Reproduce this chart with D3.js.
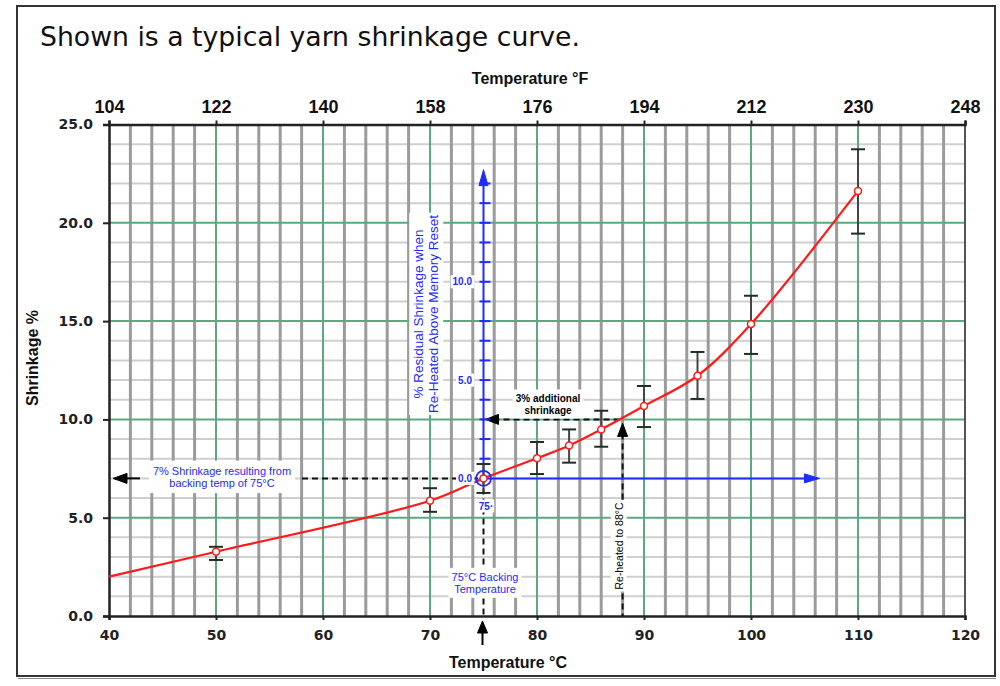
<!DOCTYPE html>
<html>
<head>
<meta charset="utf-8">
<script src="https://cdn.jsdelivr.net/npm/d3@7"></script>
<style>
  html, body { margin: 0; padding: 0; background: #fff; }
  svg { display: block; }
</style>
</head>
<body>
<svg id="chart" width="1000" height="686"></svg>
<script>
// ---------- data ----------
const tempC      = [40, 50, 70, 75, 80, 83, 86, 90, 95, 100, 110];
const shrinkage  = [2.0, 3.27, 5.86, 7.0, 8.02, 8.67, 9.49, 10.68, 12.22, 14.85, 21.62];
const errHigh    = [null, 3.52, 6.5, 7.73, 8.85, 9.49, 10.44, 11.7, 13.43, 16.29, 23.74];
const errLow     = [null, 2.85, 5.3, 6.26, 7.22, 7.8, 8.61, 9.61, 11.04, 13.33, 19.45];
const hasMarker  = [false, true, true, true, true, true, true, true, true, true, true];

const xTicksC    = [40, 50, 60, 70, 80, 90, 100, 110, 120];
const xTicksF    = [104, 122, 140, 158, 176, 194, 212, 230, 248];
const yTicks     = [0, 5, 10, 15, 20, 25];
const residualTicks = [0, 5, 10];

const titleText  = "Shown is a typical yarn shrinkage curve.";
const xTitleC    = "Temperature \u00B0C";
const xTitleF    = "Temperature \u00B0F";
const yTitle     = "Shrinkage %";
const residualTitle = ["% Residual Shrinkage when", "Re-Heated Above Memory Reset"];

const backingTemp = 75;      // °C
const backingShrink = 7;     // %
const reheatTemp = 88;       // °C
const reheatShrink = 10;     // %
const residualMax = 15.5;
const residualXEnd = 106.4;  // °C where horizontal blue axis ends

const noteBacking = ["7% Shrinkage resulting from", "backing temp of 75\u00B0C"];
const noteAdditional = ["3% additional", "shrinkage"];
const noteBackTemp = ["75\u00B0C Backing", "Temperature"];
const noteReheat = "Re-heated to 88\u00B0C";
const noteOrigin = "75\u00B7";

// ---------- setup ----------
const svg = d3.select("#chart");
const x = d3.scaleLinear().domain([40, 120]).range([109, 965]);
const xF = d3.scaleLinear().domain([104, 248]).range([109, 965]);
const y = d3.scaleLinear().domain([0, 25]).range([616, 124.5]);
const yR = d3.scaleLinear().domain([0, 25]).range([y(backingShrink), y(backingShrink + 25)]);

const GREEN = "#5aa97f", GRAY_V = "#9b9b9b", GRAY_H = "#cfcfcf", BLUE = "#1f2bff", RED = "#ff1a1a";

// outer frame
svg.append("rect").attr("x", 17).attr("y", 6).attr("width", 978).attr("height", 670)
  .attr("fill", "#fff").attr("stroke", "#333").attr("stroke-width", 2);
svg.append("line").attr("x1", 18).attr("x2", 996).attr("y1", 678.5).attr("y2", 678.5)
  .attr("stroke", "#888").attr("stroke-width", 1);

// title
svg.append("text").attr("x", 40).attr("y", 46)
  .attr("font-family", "'DejaVu Sans Condensed', 'DejaVu Sans', sans-serif")
  .attr("font-size", 27).attr("fill", "#111")
  .attr("textLength", 540).attr("lengthAdjust", "spacingAndGlyphs")
  .text(titleText);

// ---------- grid ----------
const grid = svg.append("g");
const minorX = d3.range(42, 120, 2).filter(v => v % 10 !== 0);
const minorY = d3.range(1, 25, 1).filter(v => v % 5 !== 0);
grid.selectAll(".hmin").data(minorY).join("line")
  .attr("x1", x(40)).attr("x2", x(120)).attr("y1", d => y(d)).attr("y2", d => y(d))
  .attr("stroke", GRAY_H).attr("stroke-width", 2);
grid.selectAll(".vmin").data(minorX).join("line")
  .attr("x1", d => x(d)).attr("x2", d => x(d)).attr("y1", y(0)).attr("y2", y(25))
  .attr("stroke", GRAY_V).attr("stroke-width", 3);
grid.selectAll(".hmaj").data(yTicks.filter(v => v > 0 && v < 25)).join("line")
  .attr("x1", x(40)).attr("x2", x(120)).attr("y1", d => y(d)).attr("y2", d => y(d))
  .attr("stroke", GREEN).attr("stroke-width", 2);
grid.selectAll(".vmaj").data(xTicksC.filter(v => v > 40 && v < 120)).join("line")
  .attr("x1", d => x(d)).attr("x2", d => x(d)).attr("y1", y(0)).attr("y2", y(25))
  .attr("stroke", GREEN).attr("stroke-width", 2);
// right border of plot
grid.append("line").attr("x1", x(120)).attr("x2", x(120)).attr("y1", y(0)).attr("y2", y(25))
  .attr("stroke", "#555").attr("stroke-width", 2);

// ---------- axes ----------
const tickFont = "'DejaVu Sans', Verdana, sans-serif";
const narrowFont = "'Liberation Sans Narrow', 'Arial Narrow', 'Liberation Sans', sans-serif";

const gLeft = svg.append("g").attr("transform", `translate(${x(40)},0)`)
  .call(d3.axisLeft(y).tickValues(yTicks).tickFormat(d3.format(".1f")).tickSize(6).tickPadding(10));
gLeft.selectAll("text").attr("font-family", tickFont).attr("font-weight", "bold")
  .attr("font-size", 14).attr("fill", "#222");

const gBottom = svg.append("g").attr("transform", `translate(0,${y(0)})`)
  .call(d3.axisBottom(x).tickValues(xTicksC).tickSize(4).tickPadding(10));
gBottom.selectAll("text").attr("font-family", tickFont).attr("font-weight", "bold")
  .attr("font-size", 14).attr("fill", "#222");

const gTop = svg.append("g").attr("transform", `translate(0,${y(25)})`)
  .call(d3.axisTop(xF).tickValues(xTicksF).tickSize(4).tickPadding(8));
gTop.selectAll("text").attr("font-family", narrowFont).attr("font-weight", "bold")
  .attr("font-size", 18).attr("fill", "#111");

[gLeft, gBottom, gTop].forEach(g => {
  g.select(".domain").attr("stroke", "#222").attr("stroke-width", 2.5);
  g.selectAll(".tick line").attr("stroke", "#222").attr("stroke-width", 2);
});

// axis titles
svg.append("text").attr("x", 530).attr("y", 84).attr("text-anchor", "middle")
  .attr("font-family", narrowFont).attr("font-weight", "bold").attr("font-size", 16).attr("fill", "#111")
  .text(xTitleF);
svg.append("text").attr("x", 508).attr("y", 668).attr("text-anchor", "middle")
  .attr("font-family", narrowFont).attr("font-weight", "bold").attr("font-size", 16).attr("fill", "#111")
  .text(xTitleC);
svg.append("text").attr("transform", "translate(38,358) rotate(-90)").attr("text-anchor", "middle")
  .attr("font-family", narrowFont).attr("font-weight", "bold").attr("font-size", 16).attr("fill", "#111")
  .text(yTitle);

// ---------- annotation helpers ----------
const ann = svg.append("g");
function textBlock(g, lines, cx, cy, opts) {
  const grp = g.append("g").attr("transform", `translate(${cx},${cy}) rotate(${opts.rotate || 0})`);
  const bg = grp.append("rect").attr("fill", "#fff");
  const t = grp.append("text").attr("text-anchor", "middle")
    .attr("font-family", opts.font || "'Liberation Sans', Arial, sans-serif")
    .attr("font-size", opts.size || 10).attr("font-weight", opts.weight || "normal")
    .attr("fill", opts.color || "#000");
  const lh = opts.lh || (opts.size || 10) * 1.2;
  lines.forEach((l, i) => {
    t.append("tspan").attr("x", 0).attr("y", (i - (lines.length - 1) / 2) * lh).attr("dy", "0.35em").text(l);
  });
  const b = t.node().getBBox();
  const p = opts.pad || 3;
  bg.attr("x", b.x - p).attr("y", b.y - p).attr("width", b.width + 2 * p).attr("height", b.height + 2 * p);
  return grp;
}
function arrowHead(g, tipX, tipY, dir, len, half, color) {
  let pts;
  if (dir === "left") pts = [[tipX, tipY], [tipX + len, tipY - half], [tipX + len, tipY + half]];
  if (dir === "right") pts = [[tipX, tipY], [tipX - len, tipY - half], [tipX - len, tipY + half]];
  if (dir === "up") pts = [[tipX, tipY], [tipX - half, tipY + len], [tipX + half, tipY + len]];
  g.append("path").attr("d", d3.line()(pts) + "Z").attr("fill", color).attr("stroke", color).attr("stroke-width", 1);
}

// dashed guides
const dash = "6,4";
ann.append("line").attr("x1", 302).attr("x2", x(backingTemp)).attr("y1", y(backingShrink)).attr("y2", y(backingShrink))
  .attr("stroke", "#111").attr("stroke-width", 2).attr("stroke-dasharray", dash);
ann.append("line").attr("x1", x(backingTemp)).attr("x2", x(backingTemp)).attr("y1", y(backingShrink)).attr("y2", y(0))
  .attr("stroke", "#111").attr("stroke-width", 2).attr("stroke-dasharray", dash);
ann.append("line").attr("x1", x(backingTemp) + 10).attr("x2", x(reheatTemp)).attr("y1", y(reheatShrink)).attr("y2", y(reheatShrink))
  .attr("stroke", "#111").attr("stroke-width", 2).attr("stroke-dasharray", dash);
ann.append("line").attr("x1", x(reheatTemp)).attr("x2", x(reheatTemp)).attr("y1", y(reheatShrink) + 14).attr("y2", y(0))
  .attr("stroke", "#111").attr("stroke-width", 2).attr("stroke-dasharray", dash);

// black arrows
ann.append("line").attr("x1", 120).attr("x2", 140).attr("y1", y(backingShrink)).attr("y2", y(backingShrink))
  .attr("stroke", "#000").attr("stroke-width", 2);
arrowHead(ann, 113, y(backingShrink), "left", 14, 5, "#000");
arrowHead(ann, x(backingTemp) + 2, y(reheatShrink), "left", 13, 5, "#000");
arrowHead(ann, x(reheatTemp), y(reheatShrink) + 4, "up", 13, 5, "#000");
ann.append("line").attr("x1", x(backingTemp) - 1).attr("x2", x(backingTemp) - 1).attr("y1", 630).attr("y2", 645)
  .attr("stroke", "#000").attr("stroke-width", 2);
arrowHead(ann, x(backingTemp) - 1, 621, "up", 12, 5, "#000");

// ---------- blue residual axes ----------
const blue = svg.append("g");
blue.append("line").attr("x1", x(backingTemp)).attr("x2", x(backingTemp))
  .attr("y1", yR(0)).attr("y2", yR(residualMax) + 10)
  .attr("stroke", BLUE).attr("stroke-width", 2);
arrowHead(blue, x(backingTemp), yR(residualMax) - 4, "up", 16, 4.5, BLUE);
blue.append("line").attr("x1", x(backingTemp)).attr("x2", x(residualXEnd) - 10)
  .attr("y1", yR(0)).attr("y2", yR(0)).attr("stroke", BLUE).attr("stroke-width", 2);
arrowHead(blue, x(residualXEnd), yR(0), "right", 15, 4.5, BLUE);
blue.selectAll(".rt").data(d3.range(1, 16)).join("line")
  .attr("x1", x(backingTemp) - 4).attr("x2", x(backingTemp) + 7)
  .attr("y1", d => yR(d)).attr("y2", d => yR(d)).attr("stroke", BLUE).attr("stroke-width", 2);

// ---------- error bars & curve ----------
const data = tempC.map((t, i) => ({ t, s: shrinkage[i], hi: errHigh[i], lo: errLow[i], m: hasMarker[i] }));
const eb = svg.append("g");
const withErr = data.filter(d => d.hi != null);
eb.selectAll(".ebv").data(withErr).join("line")
  .attr("x1", d => x(d.t)).attr("x2", d => x(d.t)).attr("y1", d => y(d.hi)).attr("y2", d => y(d.lo))
  .attr("stroke", "#444").attr("stroke-width", 2);
eb.selectAll(".ebh").data(withErr.flatMap(d => [d.hi, d.lo].map(v => ({ t: d.t, v })))).join("line")
  .attr("x1", d => x(d.t) - 7).attr("x2", d => x(d.t) + 7).attr("y1", d => y(d.v)).attr("y2", d => y(d.v))
  .attr("stroke", "#1f2f22").attr("stroke-width", 2);

svg.append("path").datum(data)
  .attr("d", d3.line().x(d => x(d.t)).y(d => y(d.s)).curve(d3.curveCatmullRom.alpha(0.5)))
  .attr("fill", "none").attr("stroke", RED).attr("stroke-width", 2.2);
svg.selectAll(".mk").data(data.filter(d => d.m)).join("circle")
  .attr("cx", d => x(d.t)).attr("cy", d => y(d.s)).attr("r", 3.5)
  .attr("fill", "#fff").attr("stroke", RED).attr("stroke-width", 1.5);

// origin circle
svg.append("circle").attr("cx", x(backingTemp)).attr("cy", y(backingShrink)).attr("r", 7.5)
  .attr("fill", "none").attr("stroke", BLUE).attr("stroke-width", 1.8);

// ---------- text annotations ----------
const smallFont = "'Liberation Sans', Arial, sans-serif";
textBlock(svg, noteBacking, 222, 477, { size: 11, color: BLUE, weight: "normal", pad: 4, font: smallFont, lh: 12.5 });
textBlock(svg, noteAdditional, 548, 404, { size: 10, color: "#000", weight: "bold", pad: 3, font: smallFont, lh: 12 });
textBlock(svg, noteBackTemp, 485, 583, { size: 11, color: BLUE, pad: 3, font: smallFont, lh: 12 });
textBlock(svg, [noteReheat], 619, 546, { size: 10.5, color: "#000", pad: 2, font: smallFont, rotate: -90 });
textBlock(svg, [noteOrigin], 486, 506, { size: 10, color: BLUE, pad: 1, font: smallFont, weight: "bold" });
residualTicks.forEach(r => {
  const g = svg.append("g");
  const t = g.append("text").attr("x", 472).attr("y", yR(r)).attr("dy", "0.35em").attr("text-anchor", "end")
    .attr("font-family", smallFont).attr("font-size", 10).attr("font-weight", "bold").attr("fill", BLUE)
    .text(d3.format(".1f")(r));
  const b = t.node().getBBox();
  g.insert("rect", "text").attr("x", b.x - 2).attr("y", b.y - 1).attr("width", b.width + 4).attr("height", b.height + 2).attr("fill", "#fff");
});
textBlock(svg, residualTitle, 426, 314, { size: 13.5, color: BLUE, pad: 2, font: smallFont, lh: 15, rotate: -90 });
</script>
</body>
</html>
